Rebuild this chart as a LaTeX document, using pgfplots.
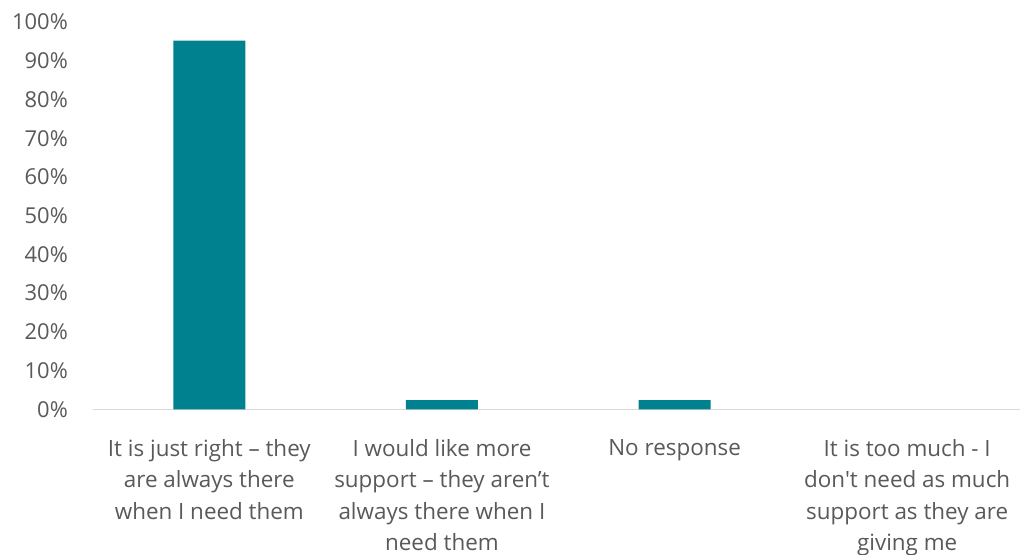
\documentclass[border=0pt]{standalone}
\usepackage{pgfplots}
\pgfplotsset{compat=1.18}
\usepackage{fontspec}
\setmainfont{Open Sans}[Ligatures=TeXOff]
\definecolor{bar}{HTML}{00818F}
\definecolor{txt}{HTML}{595959}
\definecolor{axisc}{HTML}{D9D9D9}
\begin{document}
\begin{tikzpicture}
\path (0,0) rectangle (1020bp,-555bp);
\begin{axis}[
  at={(93bp,-409.3bp)}, anchor=south west,
  scale only axis, width=927bp, height=387.3bp,
  xmin=-0.5, xmax=3.485, ymin=0, ymax=100,
  axis y line=none, axis x line*=bottom,
  axis line style={axisc, line width=1.2bp},
  x axis line style={-},
  ybar, bar width=72bp,
  xtick={0,1,2,3}, xtick style={draw=none},
  xticklabels={{It is just right – they\\are always there\\when I need them},
               {I would like more\\support – they aren’t\\always there when I\\need them},
               {No response},
               {It is too much - I\\don't need as much\\support as they are\\giving me}},
  xticklabel style={align=center, anchor=north, inner sep=0pt, yshift=-26bp,
     font=\fontsize{22.5}{31.3}\selectfont, text=txt},
  ytick={0,10,...,100},
  clip=false,
]
\addplot[fill=bar, draw=none] coordinates {(0,95.2) (1,2.38) (2,2.38)};
\pgfplotsinvokeforeach{0,10,...,100}{
  \node[anchor=east, inner sep=0pt, text=txt, font=\fontsize{22}{24}\selectfont] at (axis cs:-0.5,#1) [xshift=-25bp] {#1\%};
}
\end{axis}
\pgfresetboundingbox
\useasboundingbox (0,0) rectangle (1020bp,-555bp);
\end{tikzpicture}
\end{document}
